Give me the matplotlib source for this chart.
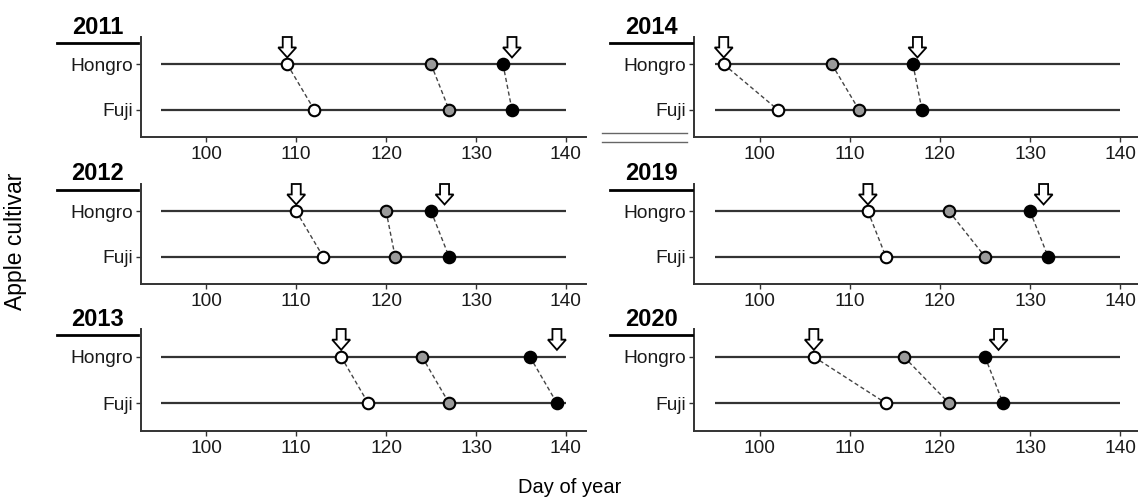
import numpy as np
import matplotlib.pyplot as plt
from matplotlib.patches import Polygon
from matplotlib.lines import Line2D

plt.rcParams['font.family'] = ['Liberation Sans', 'DejaVu Sans']

years = ['2011', '2012', '2013', '2014', '2019', '2020']
cultivars = ['Fuji', 'Hongro']
# day of year of the three stages (white, grey, black)
hongro_s1 = [109, 110, 115, 96, 112, 106]
hongro_s2 = [125, 120, 124, 108, 121, 116]
hongro_s3 = [133, 125, 136, 117, 130, 125]
fuji_s1 = [112, 113, 118, 102, 114, 114]
fuji_s2 = [127, 121, 127, 111, 125, 121]
fuji_s3 = [134, 127, 139, 118, 132, 127]
arrow_early = [109, 110, 115, 96, 112, 106]
arrow_late = [134, 126.5, 139, 117.5, 131.5, 126.5]
xticks = [100, 110, 120, 130, 140]
stage_colors = ['white', '#9a9a9a', 'black']

W, H = 1138, 498
fig = plt.figure(figsize=(W / 100, H / 100), dpi=100)

cols = [(140.7, 585.7), (694, 1140)]
rows = [(37, 137), (184, 284), (329, 431)]

for k, yr in enumerate(years):
    c = k // 3
    r = k % 3
    x0, x1 = cols[c]
    top, bot = rows[r]
    ax = fig.add_axes([x0 / W, 1 - bot / H, (x1 - x0) / W, (bot - top) / H])
    ax.set_xlim(92.7, 142.2)
    ax.set_ylim(-0.6, 1.6)
    ax.spines['top'].set_visible(False)
    ax.spines['right'].set_visible(False)
    for s in ['left', 'bottom']:
        ax.spines[s].set_linewidth(1.4)
        ax.spines[s].set_color('#333333')
    ax.set_xticks(xticks)
    ax.set_yticks([0, 1])
    ax.set_yticklabels(cultivars)
    ax.tick_params(length=3.5, width=1, color='#333333', labelsize=13.8,
                   labelcolor='#1a1a1a', pad=2)
    ax.tick_params(axis='x', pad=3)
    ax.hlines([0, 1], 95, 140, color='#333333', lw=1.6, zorder=1)

    hon = [hongro_s1[k], hongro_s2[k], hongro_s3[k]]
    fuj = [fuji_s1[k], fuji_s2[k], fuji_s3[k]]
    for h, f, col in zip(hon, fuj, stage_colors):
        ax.plot([h, f], [1, 0], color='#444444', lw=1, dashes=(3, 2), zorder=2)
        ax.plot([h, f], [1, 0], ls='none', marker='o', ms=8.3, mfc=col,
                mec='black', mew=1.5, zorder=3)

    for a in [arrow_early[k], arrow_late[k]]:
        pts = [(a, 1.15), (a - 1.0, 1.37), (a - 0.5, 1.37), (a - 0.5, 1.6),
               (a + 0.5, 1.6), (a + 0.5, 1.37), (a + 1.0, 1.37)]
        ax.add_patch(Polygon(pts, closed=True, fc='white', ec='black', lw=1.3,
                             clip_on=False, zorder=4))

    # year title with underline
    fig.text((x0 - 43) / W, 1 - (top - 10) / H, yr, fontsize=17, fontweight='bold',
             ha='center', va='center')
    fig.add_artist(Line2D([(x0 - 84) / W, (x0 - 2.5) / W],
                          [1 - (top + 6) / H, 1 - (top + 6) / H],
                          color='black', lw=2))

# small double line between the top panels
for yy in [133.3, 141.7]:
    fig.add_artist(Line2D([601.7 / W, 687 / W], [1 - yy / H, 1 - yy / H],
                          color='#666666', lw=1))

fig.text(570 / W, 1 - 487 / H, 'Day of year', fontsize=14.5, ha='center', va='center')
fig.text(16 / W, 1 - 241 / H, 'Apple cultivar', fontsize=16.5, rotation=90,
         ha='center', va='center')

fig.savefig('out.png', dpi=100)
